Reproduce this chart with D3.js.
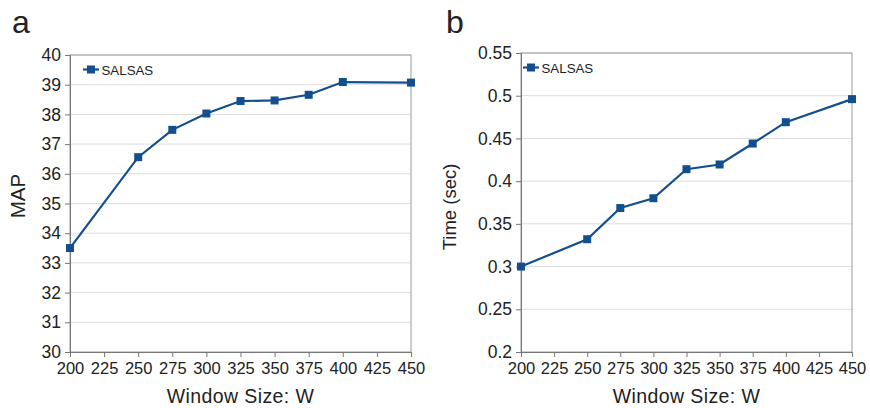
<!DOCTYPE html>
<html>
<head>
<meta charset="utf-8">
<script src="https://cdn.jsdelivr.net/npm/d3@7"></script>
<style>
  body { margin: 0; background: #fff; }
  text { font-family: "Liberation Sans", Arial, sans-serif; fill: #222; }
</style>
</head>
<body>
<div id="wrapper"></div>
<script>
// data
const windowSizes = [200, 250, 275, 300, 325, 350, 375, 400, 450]
const mapValues = [33.5, 36.56, 37.48, 38.03, 38.45, 38.47, 38.66, 39.09, 39.07]
const timeValues = [0.300, 0.332, 0.3685, 0.380, 0.414, 0.4195, 0.444, 0.469, 0.496]
const xTicks = [200, 225, 250, 275, 300, 325, 350, 375, 400, 425, 450]
const mapTicks = [30, 31, 32, 33, 34, 35, 36, 37, 38, 39, 40]
const timeTicks = [0.2, 0.25, 0.3, 0.35, 0.4, 0.45, 0.5, 0.55]
const seriesName = "SALSAS"

const lineColor = "#134f8e"

const svg = d3.select("#wrapper")
  .append("svg")
    .attr("width", 870)
    .attr("height", 408)

function drawPanel(opts) {
  const { left, right, top, bottom, values, yTicks, yDomain, yFormat, letter, letterX, yLabel, yLabelX, yLabelY, yLabelSize, legendX, legendY } = opts

  const xScale = d3.scaleLinear()
    .domain([200, 450])
    .range([left, right])

  const yScale = d3.scaleLinear()
    .domain(yDomain)
    .range([bottom, top])

  // gridlines
  svg.append("g")
    .selectAll("line")
    .data(yTicks.slice(1))
    .enter().append("line")
      .attr("x1", left)
      .attr("x2", right)
      .attr("y1", d => yScale(d))
      .attr("y2", d => yScale(d))
      .attr("stroke", "#dcdcdc")
      .attr("stroke-width", 1)

  // frame
  svg.append("rect")
    .attr("x", left)
    .attr("y", top)
    .attr("width", right - left)
    .attr("height", bottom - top)
    .attr("fill", "none")
    .attr("stroke", "#9a9a9a")
    .attr("stroke-width", 1)

  const xAxis = svg.append("g")
    .attr("transform", `translate(0,${bottom})`)
    .call(d3.axisBottom(xScale).tickValues(xTicks).tickSize(5).tickPadding(5).tickSizeOuter(0))
  xAxis.select(".domain").attr("stroke", "#777")
  xAxis.selectAll(".tick line").attr("stroke", "#777")
  xAxis.selectAll("text")
    .attr("fill", "#222")
    .style("font-size", "16.5px")
    .style("font-family", "Liberation Sans, Arial, sans-serif")

  const yAxis = svg.append("g")
    .attr("transform", `translate(${left},0)`)
    .call(d3.axisLeft(yScale).tickValues(yTicks).tickFormat(yFormat).tickSize(5).tickPadding(4).tickSizeOuter(0))
  yAxis.select(".domain").attr("stroke", "#777")
  yAxis.selectAll(".tick line").attr("stroke", "#777")
  yAxis.selectAll("text")
    .attr("fill", "#222")
    .style("font-size", "17.5px")
    .style("font-family", "Liberation Sans, Arial, sans-serif")

  // axis titles
  svg.append("text")
    .attr("x", (left + right) / 2)
    .attr("y", 403)
    .attr("text-anchor", "middle")
    .style("font-size", "19.5px")
    .style("letter-spacing", "0.4px")
    .text("Window Size: W")

  svg.append("text")
    .attr("transform", `translate(${yLabelX},${yLabelY}) rotate(-90)`)
    .attr("text-anchor", "middle")
    .style("font-size", yLabelSize)
    .text(yLabel)

  // panel letter
  svg.append("text")
    .attr("x", letterX)
    .attr("y", 33)
    .style("font-size", "32px")
    .text(letter)

  // line and markers
  const lineGenerator = d3.line()
    .x((d, i) => xScale(windowSizes[i]))
    .y(d => yScale(d))

  svg.append("path")
    .datum(values)
    .attr("d", lineGenerator)
    .attr("fill", "none")
    .attr("stroke", lineColor)
    .attr("stroke-width", 2.2)

  svg.append("g")
    .selectAll("rect")
    .data(values)
    .enter().append("rect")
      .attr("x", (d, i) => xScale(windowSizes[i]) - 4)
      .attr("y", d => yScale(d) - 4)
      .attr("width", 8)
      .attr("height", 8)
      .attr("fill", lineColor)

  // legend
  svg.append("line")
    .attr("x1", legendX)
    .attr("x2", legendX + 16)
    .attr("y1", legendY)
    .attr("y2", legendY)
    .attr("stroke", lineColor)
    .attr("stroke-width", 2.2)
  svg.append("rect")
    .attr("x", legendX + 4)
    .attr("y", legendY - 4)
    .attr("width", 8)
    .attr("height", 8)
    .attr("fill", lineColor)
  svg.append("text")
    .attr("x", legendX + 18.5)
    .attr("y", legendY + 5)
    .style("font-size", "13.3px")
    .text(seriesName)
}

drawPanel({
  left: 70, right: 411, top: 55, bottom: 352,
  values: mapValues, yTicks: mapTicks, yDomain: [30, 40], yFormat: d3.format("d"),
  letter: "a", letterX: 12, yLabel: "MAP", yLabelX: 25, yLabelY: 196, yLabelSize: "20.5px",
  legendX: 83, legendY: 69.5
})

drawPanel({
  left: 521, right: 852, top: 53, bottom: 352,
  values: timeValues, yTicks: timeTicks, yDomain: [0.2, 0.55], yFormat: d => String(+d.toFixed(2)),
  letter: "b", letterX: 446, yLabel: "Time (sec)", yLabelX: 456, yLabelY: 207, yLabelSize: "18.5px",
  legendX: 523, legendY: 67.5
})
</script>
</body>
</html>
